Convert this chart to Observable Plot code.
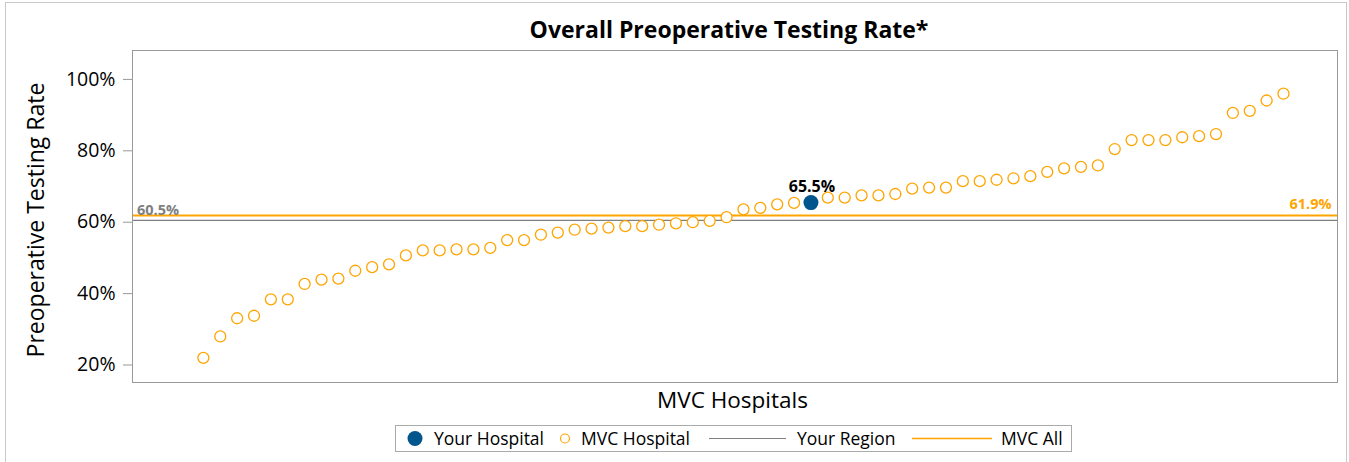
<!DOCTYPE html>
<html><head><meta charset="utf-8">
<script src="https://cdn.jsdelivr.net/npm/d3@7"></script>
<script src="https://cdn.jsdelivr.net/npm/@observablehq/plot@0.6"></script>
<style>
body{margin:0;background:#fff;font-family:"Open Sans",sans-serif;color:#000;}
#wrap{position:relative;width:1349px;height:462px;overflow:hidden;background:#fff;}
#frame{position:absolute;left:5px;top:2px;width:1342px;height:480px;border:1px solid #c8c8c8;box-sizing:border-box;}
#title{position:absolute;left:0;top:14px;width:1458px;height:30px;line-height:30px;text-align:center;font-weight:bold;font-size:23px;}
#ylab{position:absolute;left:-165.5px;top:205px;width:400px;height:30px;line-height:30px;text-align:center;font-size:23px;transform:rotate(-90deg);}
#xlab{position:absolute;left:432.5px;top:388px;width:600px;height:24px;line-height:24px;text-align:center;font-size:22.5px;}
#chart{position:absolute;left:0;top:44px;}
#legend{position:absolute;left:395px;top:425px;width:677px;height:27px;border:1px solid #aaa;box-sizing:border-box;}
#legend svg{display:block;}
</style></head>
<body>
<div id="wrap">
  <div id="frame"></div>
  <div id="title"></div>
  <div id="ylab"></div>
  <div id="chart"></div>
  <div id="xlab"></div>
  <div id="legend"></div>
</div>
<script>
const titleText = "Overall Preoperative Testing Rate*";
const yLabel = "Preoperative Testing Rate";
const xLabel = "MVC Hospitals";
const yTicks = [20, 40, 60, 80, 100];
const legendLabels = ["Your Hospital", "MVC Hospital", "Your Region", "MVC All"];

// Hospital rates, ordered (percent)
const hospitalRates = [
  22.0, 28.0, 33.1, 33.8, 38.4, 38.4, 42.7, 43.9, 44.2, 46.4,
  47.4, 48.2, 50.7, 52.1, 52.1, 52.4, 52.4, 52.8, 55.0, 55.0,
  56.5, 57.1, 57.9, 58.2, 58.5, 58.9, 58.9, 59.3, 59.7, 60.0,
  60.4, 61.4, 63.6, 64.0, 65.0, 65.4, 65.5, 66.9, 66.9, 67.5,
  67.5, 67.9, 69.4, 69.7, 69.7, 71.5, 71.5, 71.9, 72.3, 72.9,
  74.1, 75.1, 75.5, 75.9, 80.5, 83.0, 83.0, 83.0, 83.8, 84.1,
  84.7, 90.6, 91.2, 94.1, 96.0
];
const yourHospitalIndex = 37; // 1-based position
const yourRegionRate = 60.5;
const mvcAllRate = 61.9;

const blue = "#00558C", orange = "#FFA500", gray = "#808080";

const rows = hospitalRates.map((rate, i) => ({idx: i + 1, rate}));
const mvcRows = rows.filter(d => d.idx !== yourHospitalIndex);
const yourRow = rows.filter(d => d.idx === yourHospitalIndex);

document.getElementById("title").textContent = titleText;
document.getElementById("ylab").textContent = yLabel;
document.getElementById("xlab").textContent = xLabel;

const plot = Plot.plot({
  width: 1349,
  height: 344,
  marginLeft: 132,
  marginRight: 12,
  marginTop: 6,
  marginBottom: 6,
  style: {fontFamily: "Open Sans", fontSize: "19.5px", color: "#000", background: "transparent"},
  x: {domain: [-3.2, 68.2], axis: null},
  y: {domain: [15.1, 108.1]},
  marks: [
    Plot.axisY(yTicks, {tickFormat: d => d + "%", tickSize: 9, tickPadding: 8, stroke: "#999", label: null, fill: "#000"}),
    Plot.ruleY([yourRegionRate], {stroke: gray, strokeWidth: 1.2}),
    Plot.ruleY([mvcAllRate], {stroke: orange, strokeWidth: 2}),
    Plot.frame({stroke: "#999"}),
    Plot.dot(mvcRows, {x: "idx", y: "rate", r: 5.5, stroke: orange, strokeWidth: 1.3, fill: "white"}),
    Plot.dot(yourRow, {x: "idx", y: "rate", r: 7.5, fill: blue}),
    Plot.text(yourRow, {x: "idx", y: "rate", text: d => d.rate.toFixed(1) + "%", lineAnchor: "bottom", dy: -11, dx: 1, fontWeight: "bold", fontSize: 16, fill: "#000"}),
    Plot.text([yourRegionRate], {y: () => mvcAllRate, frameAnchor: "left", text: d => d.toFixed(1) + "%", textAnchor: "start", lineAnchor: "bottom", dx: 4.5, dy: 0, fontWeight: "bold", fontSize: 14.5, fill: gray}),
    Plot.text([mvcAllRate], {y: d => d, frameAnchor: "right", text: d => d.toFixed(1) + "%", textAnchor: "end", lineAnchor: "bottom", dx: -6, dy: -6, fontWeight: "bold", fontSize: 14.5, fill: orange})
  ]
});
document.getElementById("chart").appendChild(plot);

// Legend
const lg = d3.select("#legend").append("svg").attr("width", 675).attr("height", 25)
  .style("font-family", "Open Sans").style("font-size", "17.5px");
const cy = 12.5, base = 18.7;
lg.append("circle").attr("cx", 19).attr("cy", cy).attr("r", 7.5).attr("fill", blue);
lg.append("text").attr("x", 38).attr("y", base).text(legendLabels[0]);
lg.append("circle").attr("cx", 169).attr("cy", cy).attr("r", 4.5).attr("fill", "none").attr("stroke", orange).attr("stroke-width", 1.2);
lg.append("text").attr("x", 185).attr("y", base).text(legendLabels[1]);
lg.append("line").attr("x1", 313).attr("x2", 390).attr("y1", cy).attr("y2", cy).attr("stroke", gray).attr("stroke-width", 1);
lg.append("text").attr("x", 401).attr("y", base).text(legendLabels[2]);
lg.append("line").attr("x1", 516).attr("x2", 596).attr("y1", cy).attr("y2", cy).attr("stroke", orange).attr("stroke-width", 1.5);
lg.append("text").attr("x", 605).attr("y", base).text(legendLabels[3]);
</script>
</body></html>
